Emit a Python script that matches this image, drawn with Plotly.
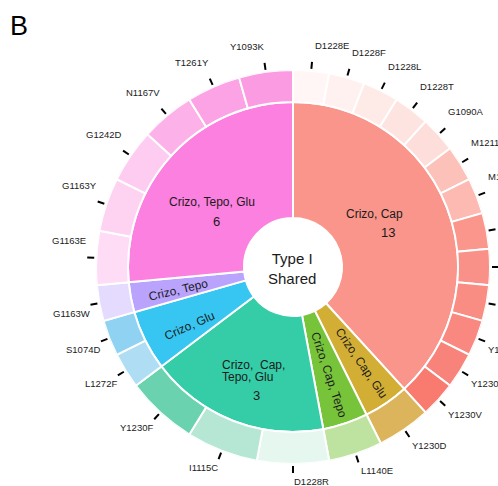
import math
import plotly.graph_objects as go

# ---- data -------------------------------------------------------------
groups = [
    "Crizo, Cap",
    "Crizo, Cap, Glu",
    "Crizo, Cap, Tepo",
    "Crizo, Cap, Tepo, Glu",
    "Crizo, Glu",
    "Crizo, Tepo",
    "Crizo, Tepo, Glu",
]

mutations = [
    "D1228E", "D1228F", "D1228L", "D1228T", "G1090A", "M1211L", "M1250T",
    "V1092I", "V1155L", "V1188L", "Y1230C", "Y1230H", "Y1230V",
    "Y1230D",
    "L1140E",
    "D1228R", "I1115C", "Y1230F",
    "L1272F", "S1074D",
    "G1163W",
    "G1163E", "G1163Y", "G1242D", "N1167V", "T1261Y", "Y1093K",
]

# index into `groups` for every mutation
mutation_group = [0] * 13 + [1] + [2] + [3] * 3 + [4] * 2 + [5] + [6] * 6

# angular weight of every mutation segment
arc_weight = [1] * 13 + [1.5] + [1.5] + [2] * 3 + [1] * 2 + [1] + [1.5] * 6

center_title = "Type I<br>Shared"
panel_letter = "B"

# ---- style ------------------------------------------------------------
W, H = 498, 486
CX, CY = 293, 267          # pie centre (px)
R_HOLE, R_MID, R_OUT = 49, 165, 197
TICK_R0, TICK_R1 = 199, 206
LABEL_PAD = 2              # horizontal gap between tick end and right-side names
FONT = "Liberation Sans, Arial, Helvetica, sans-serif"
TXT = "#1b1b1b"

group_colors = ["#F9958B", "#D3AE35", "#77C43B", "#35CDA7",
                "#37C6F1", "#B9A3FC", "#FC80DF"]
leaf_colors = [
    "#FFF6F5", "#FFF1EF", "#FEEAE7", "#FEE4E0", "#FDDEDA", "#FCC1B9",
    "#FCBAB2", "#FA968C", "#FA9188", "#F98D84", "#F98880", "#F8837A",
    "#F97B70",
    "#DCB45C",
    "#BEE3A0",
    "#E6F7F0", "#B6E7D5", "#6BD2AF",
    "#AFDEF4", "#90D2F1",
    "#E5DBFE",
    "#FFDCF5", "#FED3F2", "#FDCCF0", "#FCB2E8", "#FBA3E4", "#FB9BE2",
]

# label placement for the inner ring: anchor angle/radius, rotation,
# line gap, horizontal anchor and offset of the count text
inner_label_style = {
    "Crizo, Cap": dict(angle=57.1, r=97.6, rot=0, xanchor="center", count_off=(13, 19)),
    "Crizo, Cap, Glu": dict(angle=144.3, r=117.6, rot=55.6, xanchor="center"),
    "Crizo, Cap, Tepo": dict(angle=161.6, r=114, rot=71.5, xanchor="center"),
    "Crizo, Cap, Tepo, Glu": dict(angle=214.7, r=126.5, rot=0, xanchor="left",
                                  lines=["Crizo,\u00a0 Cap,", "Tepo, Glu"],
                                  gap=12.5, count_off=(36, 24)),
    "Crizo, Glu": dict(angle=240.4, r=119.6, rot=-24, xanchor="center"),
    "Crizo, Tepo": dict(angle=258.7, r=117, rot=-13, xanchor="center"),
    "Crizo, Tepo, Glu": dict(angle=308.7, r=104, rot=0, xanchor="center", count_off=(5, 20)),
}
count_shown = {"Crizo, Cap", "Crizo, Cap, Tepo, Glu", "Crizo, Tepo, Glu"}

# ---- derived geometry -------------------------------------------------
total = sum(arc_weight)
deg_per = 360.0 / total

leaf_width = [w * deg_per for w in arc_weight]
leaf_mid = []
acc = 0.0
for w in leaf_width:
    leaf_mid.append(acc + w / 2)
    acc += w

group_width, group_mid, group_count = [], [], []
acc = 0.0
for gi, g in enumerate(groups):
    w = sum(lw for lw, mg in zip(leaf_width, mutation_group) if mg == gi)
    group_width.append(w)
    group_mid.append(acc + w / 2)
    group_count.append(sum(1 for mg in mutation_group if mg == gi))
    acc += w


def to_px(angle_deg, r):
    a = math.radians(angle_deg)
    return CX + r * math.sin(a), CY - r * math.cos(a)


def px_paper(x, y):
    return x / W, 1 - y / H


fig = go.Figure()

# inner ring (groups)
fig.add_trace(go.Barpolar(
    theta=group_mid, width=group_width,
    r=[R_MID - R_HOLE] * len(groups), base=[R_HOLE] * len(groups),
    marker=dict(color=group_colors, line=dict(color="white", width=2)),
    hoverinfo="skip", showlegend=False,
))
# outer ring (mutations)
fig.add_trace(go.Barpolar(
    theta=leaf_mid, width=leaf_width,
    r=[R_OUT - R_MID] * len(mutations), base=[R_MID] * len(mutations),
    marker=dict(color=leaf_colors, line=dict(color="white", width=2)),
    hoverinfo="skip", showlegend=False,
))

# short radial tick marks outside the outer ring
tx, ty = [], []
for a in leaf_mid:
    x0, y0 = to_px(a, TICK_R0)
    x1, y1 = to_px(a, TICK_R1)
    tx += [x0, x1, None]
    ty += [y0, y1, None]
fig.add_trace(go.Scatter(
    x=tx, y=ty, mode="lines", line=dict(color="black", width=2),
    hoverinfo="skip", showlegend=False, cliponaxis=False,
))

annotations = []

# mutation names
for name, a in zip(mutations, leaf_mid):
    x1, y1 = to_px(a, TICK_R1)
    upper = math.cos(math.radians(a)) > 0
    ly = y1 - 16.5 if upper else y1 + 8.5
    right_side = math.sin(math.radians(a)) >= -1e-9
    xanchor = "left" if right_side else "right"
    lx = x1 + LABEL_PAD if right_side and a > 1e-6 and abs(a - 180) > 1 else x1
    px, py = px_paper(lx, ly)
    annotations.append(dict(
        x=px, y=py, xref="paper", yref="paper", text=name, showarrow=False,
        xanchor=xanchor, yanchor="middle",
        font=dict(family=FONT, size=9.5, color=TXT), borderpad=0,
    ))

# group names and counts
for gi, g in enumerate(groups):
    st = inner_label_style[g]
    ax, ay = to_px(st["angle"], st["r"])
    lines = st.get("lines", [g])
    gap = st.get("gap", 14)
    n = len(lines)
    for li, line in enumerate(lines):
        ly = ay + (li - (n - 1) / 2) * gap
        px, py = px_paper(ax, ly)
        annotations.append(dict(
            x=px, y=py, xref="paper", yref="paper", text=line, showarrow=False,
            xanchor=st["xanchor"], yanchor="middle", textangle=st["rot"],
            font=dict(family=FONT, size=12, color=TXT), borderpad=0,
        ))
    if g in count_shown:
        dx, dy = st["count_off"]
        px, py = px_paper(ax + dx, ay + dy)
        annotations.append(dict(
            x=px, y=py, xref="paper", yref="paper", text=str(group_count[gi]),
            showarrow=False, xanchor="center", yanchor="middle",
            font=dict(family=FONT, size=13, color=TXT), borderpad=0,
        ))

# centre title
px, py = px_paper(CX - 1, CY + 1.5)
annotations.append(dict(
    x=px, y=py, xref="paper", yref="paper", text=center_title, showarrow=False,
    xanchor="center", yanchor="middle",
    font=dict(family=FONT, size=15, color=TXT),
))

# panel letter
px, py = px_paper(8, 26)
annotations.append(dict(
    x=px, y=py, xref="paper", yref="paper", text=panel_letter, showarrow=False,
    xanchor="left", yanchor="middle",
    font=dict(family=FONT, size=27, color="black"),
))

dx0, dy0 = px_paper(CX - R_OUT, CY + R_OUT)
dx1, dy1 = px_paper(CX + R_OUT, CY - R_OUT)

fig.update_layout(
    width=W, height=H,
    margin=dict(l=0, r=0, t=0, b=0),
    paper_bgcolor="white",
    plot_bgcolor="rgba(0,0,0,0)",
    showlegend=False,
    polar=dict(
        domain=dict(x=[dx0, dx1], y=[dy0, dy1]),
        bgcolor="rgba(0,0,0,0)",
        bargap=0,
        radialaxis=dict(range=[0, R_OUT], visible=False, showgrid=False),
        angularaxis=dict(rotation=90, direction="clockwise", visible=False,
                         showgrid=False),
    ),
    xaxis=dict(range=[0, W], visible=False, fixedrange=True, domain=[0, 1]),
    yaxis=dict(range=[H, 0], visible=False, fixedrange=True, domain=[0, 1]),
    annotations=annotations,
)

fig.write_html("out.html")
